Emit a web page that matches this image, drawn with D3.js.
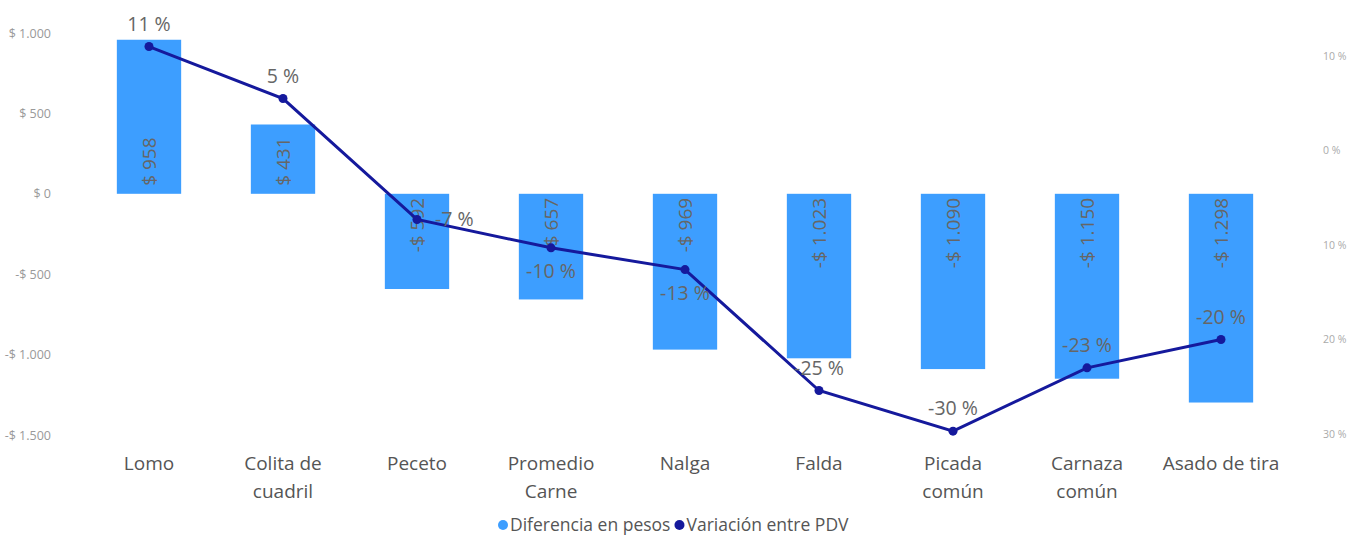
<!DOCTYPE html>
<html>
<head>
<meta charset="utf-8">
<script src="https://cdn.jsdelivr.net/npm/d3@7"></script>
<style>
  body { margin: 0; background: #fff; }
  #chart { font-family: "Open Sans", "Noto Sans", sans-serif; }
</style>
</head>
<body>
<div id="chart"></div>
<script>
// data
const categories = ["Lomo", "Colita de cuadril", "Peceto", "Promedio Carne", "Nalga", "Falda", "Picada común", "Carnaza común", "Asado de tira"];
const diffPesos = [958, 431, -592, -657, -969, -1023, -1090, -1150, -1298];
const variacion = [11, 5.5, -7.3, -10.3, -12.6, -25.4, -29.7, -23, -20];
const variacionLabels = ["11 %", "5 %", "-7 %", "-10 %", "-13 %", "-25 %", "-30 %", "-23 %", "-20 %"];
const leftTicks = [1000, 500, 0, -500, -1000, -1500];
const leftTickLabels = ["$ 1.000", "$ 500", "$ 0", "-$ 500", "-$ 1.000", "-$ 1.500"];
const rightTicks = [10, 0, -10, -20, -30];
const rightTickLabels = ["10 %", "0 %", "10 %", "20 %", "30 %"];
const seriesNames = ["Diferencia en pesos", "Variación entre PDV"];

// constants
const w = 1364,
      h = 535,
      barColor = "#3d9eff",
      lineColor = "#15199c",
      labelColor = "#666";

let chart = d3.select("#chart")
              .append("svg")
              .attr("width", w)
              .attr("height", h);

let xScale = d3.scaleBand()
               .domain(categories)
               .range([82, 1288])
               .paddingInner(0.52)
               .paddingOuter(0.26);

let yScale = d3.scaleLinear()
               .domain([-1500, 1000])
               .range([435, 33]);

let pScale = d3.scaleLinear()
               .domain([-30, 10])
               .range([434, 56]);

// left axis
let yAxis = d3.axisLeft(yScale)
              .tickValues(leftTicks)
              .tickSize(0)
              .tickFormat((d, i) => leftTickLabels[i]);
let gy = chart.append("g")
              .attr("transform", "translate(54,0)")
              .call(yAxis);
gy.select(".domain").remove();
gy.selectAll("text")
  .attr("fill", "#999")
  .style("font-size", "12.5px")
  .style("font-family", "'Open Sans', sans-serif");

// right axis
let pAxis = d3.axisRight(pScale)
              .tickValues(rightTicks)
              .tickSize(0)
              .tickFormat((d, i) => rightTickLabels[i]);
let gp = chart.append("g")
              .attr("transform", "translate(1320,0)")
              .call(pAxis);
gp.select(".domain").remove();
gp.selectAll("text")
  .attr("fill", "#aaa")
  .style("font-size", "10.5px")
  .style("font-family", "'Open Sans', sans-serif");

// bars
chart.selectAll("rect.bar")
     .data(diffPesos)
     .enter()
     .append("rect")
     .attr("class", "bar")
     .attr("x", (d, i) => xScale(categories[i]))
     .attr("y", d => yScale(Math.max(0, d)))
     .attr("width", xScale.bandwidth())
     .attr("height", d => Math.abs(yScale(d) - yScale(0)))
     .attr("fill", barColor);

// bar labels (inside base, rotated)
const fmtPesos = d => (d < 0 ? "-$ " : "$ ") + d3.format(",")(Math.abs(d)).replace(/,/g, ".");
chart.selectAll("text.barlabel")
     .data(diffPesos)
     .enter()
     .append("text")
     .attr("class", "barlabel")
     .attr("transform", (d, i) => {
       let cx = xScale(categories[i]) + xScale.bandwidth() / 2 + 7;
       let cy = d >= 0 ? yScale(0) - 8 : yScale(0) + 4;
       return `translate(${cx},${cy}) rotate(-90)`;
     })
     .attr("text-anchor", d => d >= 0 ? "start" : "end")
     .attr("fill", labelColor)
     .style("font-size", "19px")
     .text(d => fmtPesos(d));

// line
let line = d3.line()
             .x((d, i) => xScale(categories[i]) + xScale.bandwidth() / 2)
             .y(d => pScale(d));
chart.append("path")
     .datum(variacion)
     .attr("d", line)
     .attr("fill", "none")
     .attr("stroke", lineColor)
     .attr("stroke-width", 3);

chart.selectAll("circle.pt")
     .data(variacion)
     .enter()
     .append("circle")
     .attr("class", "pt")
     .attr("cx", (d, i) => xScale(categories[i]) + xScale.bandwidth() / 2)
     .attr("cy", d => pScale(d))
     .attr("r", 4.5)
     .attr("fill", lineColor);

// line labels; collisions push a few aside like the original
const below = ["Promedio Carne", "Nalga"],
      right = ["Peceto"];
chart.selectAll("text.ptlabel")
     .data(variacion)
     .enter()
     .append("text")
     .attr("class", "ptlabel")
     .attr("x", (d, i) => {
       let cx = xScale(categories[i]) + xScale.bandwidth() / 2;
       return right.includes(categories[i]) ? cx + 18 : cx;
     })
     .attr("y", (d, i) => {
       let cy = pScale(d);
       if (right.includes(categories[i])) return cy + 7;
       if (below.includes(categories[i])) return cy + 30;
       return cy - 16;
     })
     .attr("text-anchor", (d, i) => right.includes(categories[i]) ? "start" : "middle")
     .attr("fill", labelColor)
     .style("font-size", "19.5px")
     .text((d, i) => variacionLabels[i]);

// x axis labels (wrapped)
const wrapped = {
  "Colita de cuadril": ["Colita de", "cuadril"],
  "Promedio Carne": ["Promedio", "Carne"],
  "Picada común": ["Picada", "común"],
  "Carnaza común": ["Carnaza", "común"]
};
categories.forEach((c, i) => {
  let lines = wrapped[c] || [c];
  let t = chart.append("text")
               .attr("x", xScale(c) + xScale.bandwidth() / 2)
               .attr("y", 470)
               .attr("text-anchor", "middle")
               .attr("fill", "#555")
               .style("font-size", "19px");
  lines.forEach((l, j) => {
    t.append("tspan")
     .attr("x", xScale(c) + xScale.bandwidth() / 2)
     .attr("dy", j === 0 ? 0 : 28)
     .text(l);
  });
});

// legend
let legend = chart.append("g").attr("transform", "translate(503,531)");
let lx = 0;
seriesNames.forEach((s, i) => {
  let g = legend.append("g").attr("transform", `translate(${lx},0)`);
  g.append("circle")
   .attr("cx", 0)
   .attr("cy", -6)
   .attr("r", 5)
   .attr("fill", i === 0 ? barColor : lineColor);
  let t = g.append("text")
           .attr("x", 7)
           .attr("y", 0)
           .attr("fill", "#555")
           .style("font-size", "17.5px")
           .text(s);
  lx += 7 + t.node().getComputedTextLength() + 9;
});
</script>
</body>
</html>
